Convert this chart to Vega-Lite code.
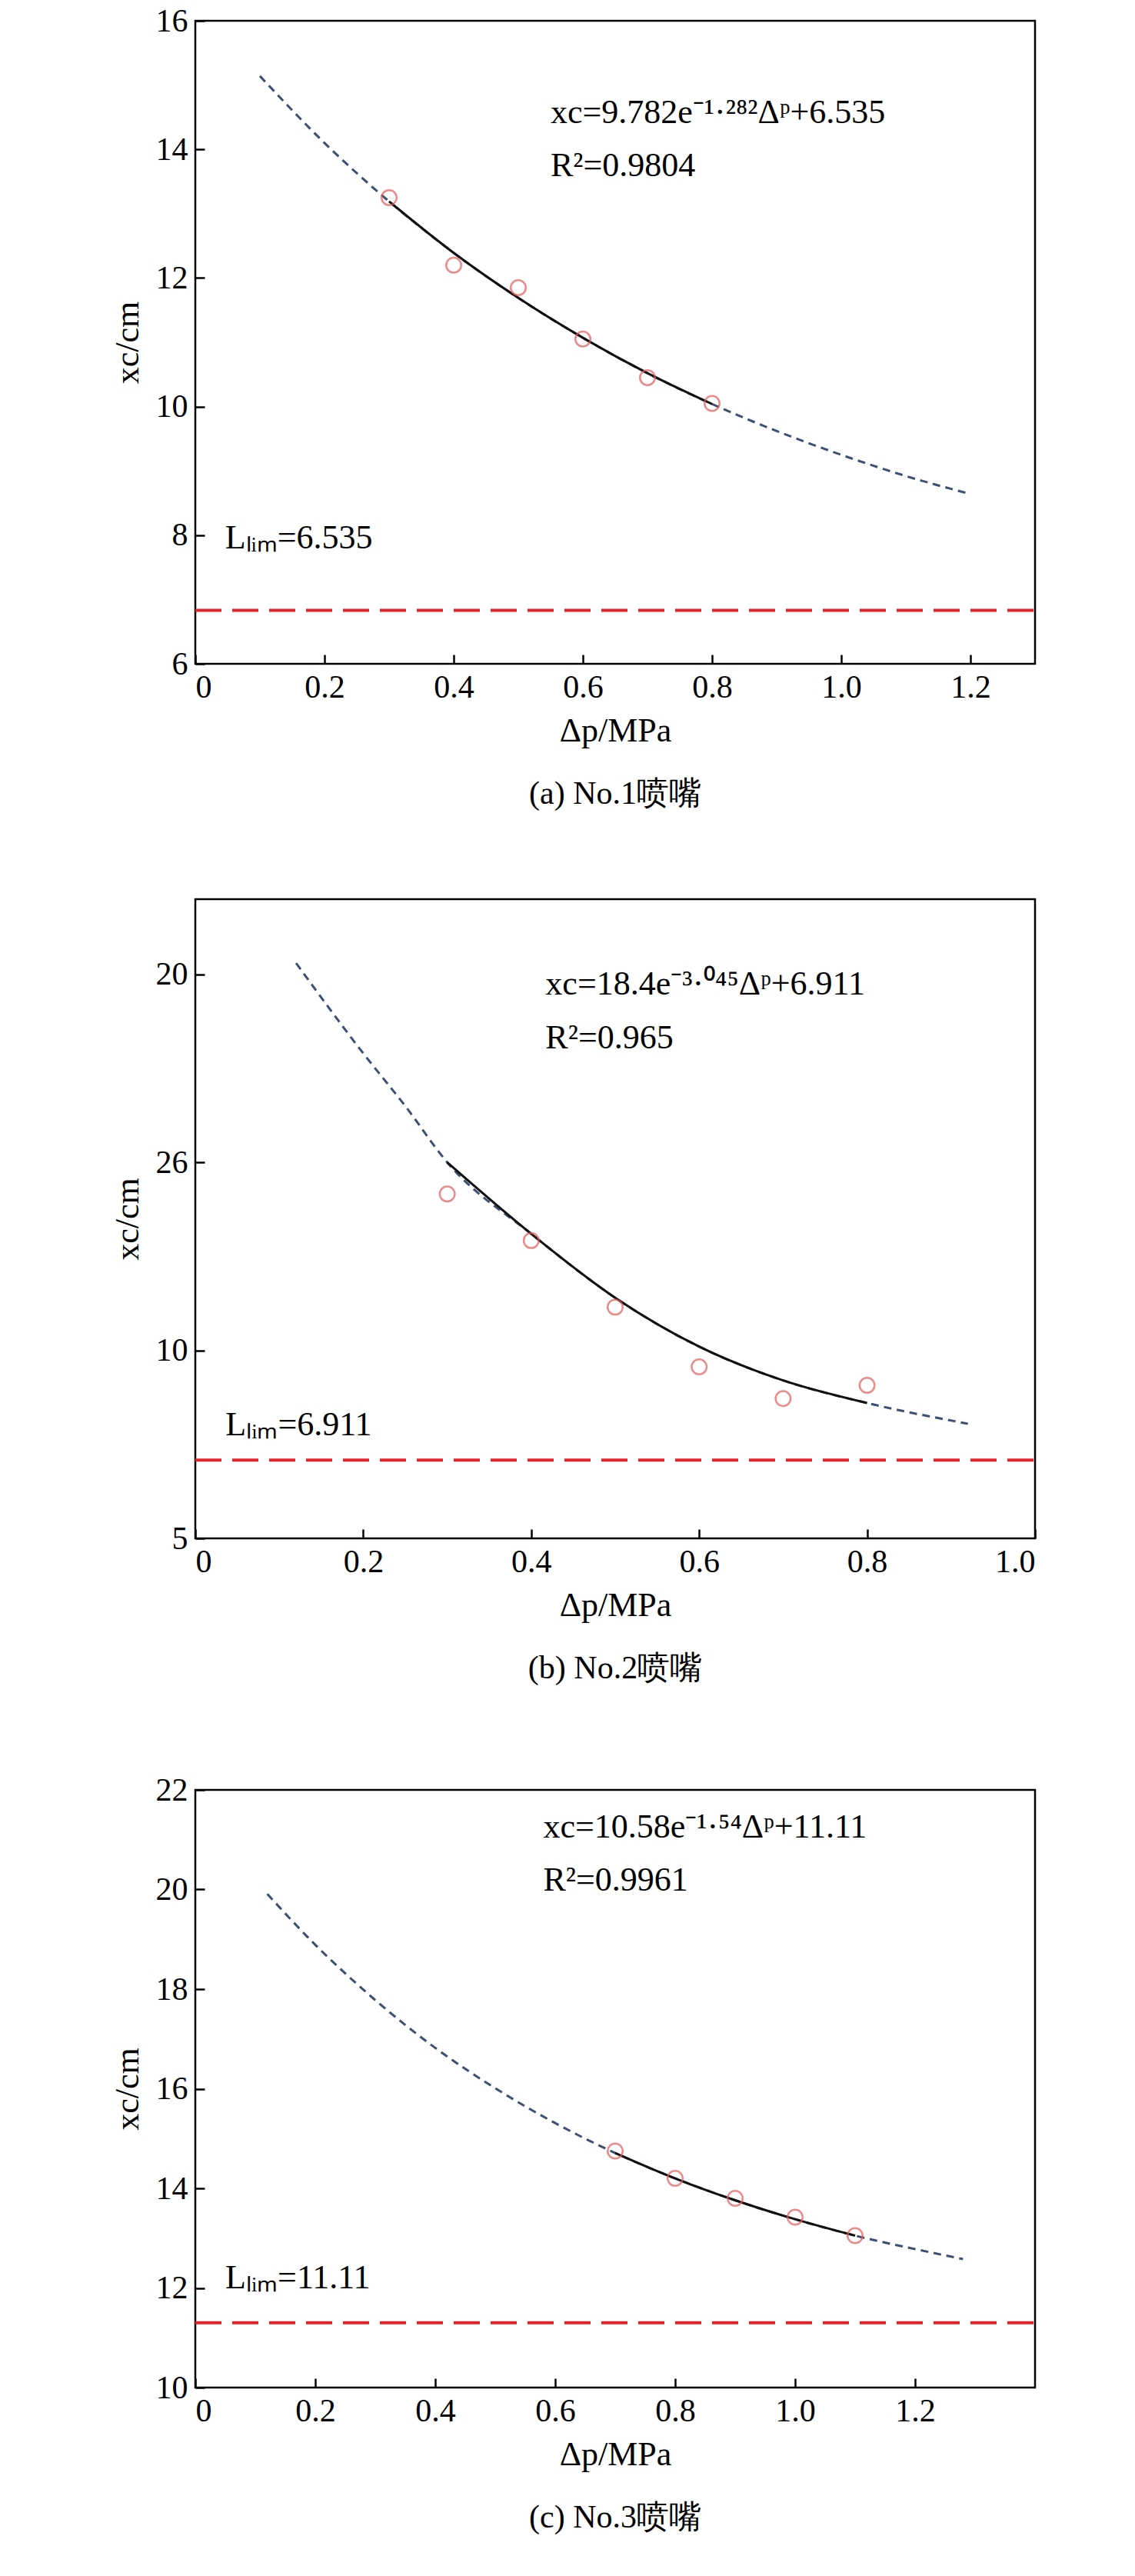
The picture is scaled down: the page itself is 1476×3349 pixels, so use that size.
{
  "$schema": "https://vega.github.io/schema/vega-lite/v6.json",
  "background": "white",
  "padding": {"left": 142, "top": 4, "right": 20, "bottom": 10},
  "spacing": 112,
  "datasets": {
    "p1": [
      {"k": "fit", "x": 0.1, "y": 15.14}, {"k": "fit", "x": 0.2, "y": 14.1}, {"k": "fit", "x": 0.3, "y": 13.19},
      {"k": "fit", "x": 0.4, "y": 12.39}, {"k": "fit", "x": 0.5, "y": 11.69}, {"k": "fit", "x": 0.6, "y": 11.07},
      {"k": "fit", "x": 0.7, "y": 10.52}, {"k": "fit", "x": 0.8, "y": 10.04}, {"k": "fit", "x": 0.9, "y": 9.62},
      {"k": "fit", "x": 1.0, "y": 9.25}, {"k": "fit", "x": 1.1, "y": 8.92}, {"k": "fit", "x": 1.2, "y": 8.64},
      {"k": "obs", "x": 0.3, "y": 13.25}, {"k": "obs", "x": 0.4, "y": 12.2}, {"k": "obs", "x": 0.5, "y": 11.85},
      {"k": "obs", "x": 0.6, "y": 11.05}, {"k": "obs", "x": 0.7, "y": 10.45}, {"k": "obs", "x": 0.8, "y": 10.05},
      {"k": "lim", "y": 6.83},
      {"k": "txt", "x": 0.55, "y": 14.57, "t": "xc=9.782e⁻¹·²⁸²Δᵖ+6.535"},
      {"k": "txt", "x": 0.55, "y": 13.74, "t": "R²=0.9804"},
      {"k": "txt", "x": 0.046, "y": 7.95, "t": "Lₗᵢₘ=6.535"}
    ],
    "p2": [
      {"k": "fit", "x": 0.12, "y": 20.3}, {"k": "fit", "x": 0.2, "y": 17.9}, {"k": "fit", "x": 0.25, "y": 16.5},
      {"k": "fit", "x": 0.3, "y": 15.0}, {"k": "fit", "x": 0.4, "y": 13.1}, {"k": "fit", "x": 0.5, "y": 11.4},
      {"k": "fit", "x": 0.6, "y": 10.1}, {"k": "fit", "x": 0.7, "y": 9.2}, {"k": "fit", "x": 0.8, "y": 8.6},
      {"k": "fit", "x": 0.92, "y": 8.05},
      {"k": "obs", "x": 0.3, "y": 14.16}, {"k": "obs", "x": 0.4, "y": 12.92}, {"k": "obs", "x": 0.5, "y": 11.15},
      {"k": "obs", "x": 0.6, "y": 9.56}, {"k": "obs", "x": 0.7, "y": 8.72}, {"k": "obs", "x": 0.8, "y": 9.07},
      {"k": "lim", "y": 7.08},
      {"k": "txt", "x": 0.417, "y": 19.73, "t": "xc=18.4e⁻³·⁰⁴⁵Δᵖ+6.911"},
      {"k": "txt", "x": 0.417, "y": 18.3, "t": "R²=0.965"},
      {"k": "txt", "x": 0.036, "y": 8.0, "t": "Lₗᵢₘ=6.911"}
    ],
    "p3": [
      {"k": "fit", "x": 0.12, "y": 19.91}, {"k": "fit", "x": 0.2, "y": 18.89}, {"k": "fit", "x": 0.3, "y": 17.78},
      {"k": "fit", "x": 0.4, "y": 16.82}, {"k": "fit", "x": 0.5, "y": 16.01}, {"k": "fit", "x": 0.6, "y": 15.31},
      {"k": "fit", "x": 0.7, "y": 14.71}, {"k": "fit", "x": 0.8, "y": 14.2}, {"k": "fit", "x": 0.9, "y": 13.76},
      {"k": "fit", "x": 1.0, "y": 13.38}, {"k": "fit", "x": 1.1, "y": 13.05}, {"k": "fit", "x": 1.2, "y": 12.78},
      {"k": "fit", "x": 1.28, "y": 12.58},
      {"k": "obs", "x": 0.7, "y": 14.75}, {"k": "obs", "x": 0.8, "y": 14.2}, {"k": "obs", "x": 0.9, "y": 13.8},
      {"k": "obs", "x": 1.0, "y": 13.42}, {"k": "obs", "x": 1.1, "y": 13.05},
      {"k": "lim", "y": 11.3},
      {"k": "txt", "x": 0.58, "y": 21.25, "t": "xc=10.58e⁻¹·⁵⁴Δᵖ+11.11"},
      {"k": "txt", "x": 0.58, "y": 20.17, "t": "R²=0.9961"},
      {"k": "txt", "x": 0.05, "y": 12.2, "t": "Lₗᵢₘ=11.11"}
    ]
  },
  "vconcat": [
    {
      "width": 1092, "height": 836,
      "title": {"text": "(a) No.1喷嘴", "orient": "bottom"},
      "data": {"name": "p1"},
      "encoding": {
        "x": {"field": "x", "type": "quantitative", "scale": {"domain": [0, 1.3], "nice": false}, "axis": {"values": [0, 0.2, 0.4, 0.6, 0.8, 1.0, 1.2], "format": ".1f", "labelExpr": "datum.value==0?'0':datum.label"}, "title": "Δp/MPa"},
        "y": {"field": "y", "type": "quantitative", "scale": {"domain": [6, 16], "nice": false}, "axis": {"values": [6, 8, 10, 12, 14, 16]}, "title": "xc/cm"}
      },
      "layer": [
        {"transform": [{"filter": "datum.k=='fit'"}], "mark": {"type": "line", "color": "#3d4f73", "strokeDash": [10, 7], "strokeWidth": 3, "interpolate": "monotone"}},
        {"transform": [{"filter": "datum.k=='fit' && datum.x>=0.3 && datum.x<=0.8"}], "mark": {"type": "line", "color": "#111", "strokeWidth": 3, "interpolate": "monotone"}},
        {"transform": [{"filter": "datum.k=='obs'"}], "mark": {"type": "point", "shape": "circle", "filled": false, "size": 380, "color": "#e45a5a", "strokeWidth": 2.5}},
        {"transform": [{"filter": "datum.k=='lim'"}], "mark": {"type": "rule", "color": "#e8222a", "strokeWidth": 4, "strokeDash": [34, 14]}, "encoding": {"x": {"value": 0}, "x2": {"value": 1092}}},
        {"transform": [{"filter": "datum.k=='txt'"}], "mark": {"type": "text", "align": "left", "baseline": "middle", "fontSize": 44, "font": "Liberation Serif"}, "encoding": {"text": {"field": "t"}}}
      ]
    },
    {
      "width": 1092, "height": 831,
      "title": {"text": "(b) No.2喷嘴", "orient": "bottom"},
      "data": {"name": "p2"},
      "encoding": {
        "x": {"field": "x", "type": "quantitative", "scale": {"domain": [0, 1.0], "nice": false}, "axis": {"values": [0, 0.2, 0.4, 0.6, 0.8, 1.0], "format": ".1f", "labelExpr": "datum.value==0?'0':datum.label"}, "title": "Δp/MPa"},
        "y": {"field": "y", "type": "quantitative", "scale": {"domain": [5, 22], "nice": false}, "axis": {"values": [5, 10, 15, 20], "labelExpr": "datum.value==15?'26':datum.label"}, "title": "xc/cm"}
      },
      "layer": [
        {"transform": [{"filter": "datum.k=='fit'"}], "mark": {"type": "line", "color": "#3d4f73", "strokeDash": [10, 7], "strokeWidth": 3, "interpolate": "monotone"}},
        {"transform": [{"filter": "datum.k=='fit' && datum.x>=0.3 && datum.x<=0.8"}], "mark": {"type": "line", "color": "#111", "strokeWidth": 3, "interpolate": "monotone"}},
        {"transform": [{"filter": "datum.k=='obs'"}], "mark": {"type": "point", "shape": "circle", "filled": false, "size": 380, "color": "#e45a5a", "strokeWidth": 2.5}},
        {"transform": [{"filter": "datum.k=='lim'"}], "mark": {"type": "rule", "color": "#e8222a", "strokeWidth": 4, "strokeDash": [34, 14]}, "encoding": {"x": {"value": 0}, "x2": {"value": 1092}}},
        {"transform": [{"filter": "datum.k=='txt'"}], "mark": {"type": "text", "align": "left", "baseline": "middle", "fontSize": 44, "font": "Liberation Serif"}, "encoding": {"text": {"field": "t"}}}
      ]
    },
    {
      "width": 1092, "height": 777,
      "title": {"text": "(c) No.3喷嘴", "orient": "bottom"},
      "data": {"name": "p3"},
      "encoding": {
        "x": {"field": "x", "type": "quantitative", "scale": {"domain": [0, 1.4], "nice": false}, "axis": {"values": [0, 0.2, 0.4, 0.6, 0.8, 1.0, 1.2], "format": ".1f", "labelExpr": "datum.value==0?'0':datum.label"}, "title": "Δp/MPa"},
        "y": {"field": "y", "type": "quantitative", "scale": {"domain": [10, 22], "nice": false}, "axis": {"values": [10, 12, 14, 16, 18, 20, 22]}, "title": "xc/cm"}
      },
      "layer": [
        {"transform": [{"filter": "datum.k=='fit'"}], "mark": {"type": "line", "color": "#3d4f73", "strokeDash": [10, 7], "strokeWidth": 3, "interpolate": "monotone"}},
        {"transform": [{"filter": "datum.k=='fit' && datum.x>=0.7 && datum.x<=1.1"}], "mark": {"type": "line", "color": "#111", "strokeWidth": 3, "interpolate": "monotone"}},
        {"transform": [{"filter": "datum.k=='obs'"}], "mark": {"type": "point", "shape": "circle", "filled": false, "size": 380, "color": "#e45a5a", "strokeWidth": 2.5}},
        {"transform": [{"filter": "datum.k=='lim'"}], "mark": {"type": "rule", "color": "#e8222a", "strokeWidth": 4, "strokeDash": [34, 14]}, "encoding": {"x": {"value": 0}, "x2": {"value": 1092}}},
        {"transform": [{"filter": "datum.k=='txt'"}], "mark": {"type": "text", "align": "left", "baseline": "middle", "fontSize": 44, "font": "Liberation Serif"}, "encoding": {"text": {"field": "t"}}}
      ]
    }
  ],
  "config": {
    "font": "Liberation Serif",
    "view": {"stroke": "black", "strokeWidth": 2.5},
    "title": {"fontSize": 42, "fontWeight": "normal", "font": "Liberation Serif", "offset": 40, "color": "black"},
    "axis": {
      "grid": false, "domain": false, "tickColor": "black", "tickSize": -12, "tickWidth": 2.5,
      "labelFont": "Liberation Serif", "labelFontSize": 42, "labelColor": "black", "labelPadding": 22,
      "titleFont": "Liberation Serif", "titleFontSize": 44, "titleFontWeight": "normal", "titleColor": "black", "titlePadding": 14
    }
  }
}
